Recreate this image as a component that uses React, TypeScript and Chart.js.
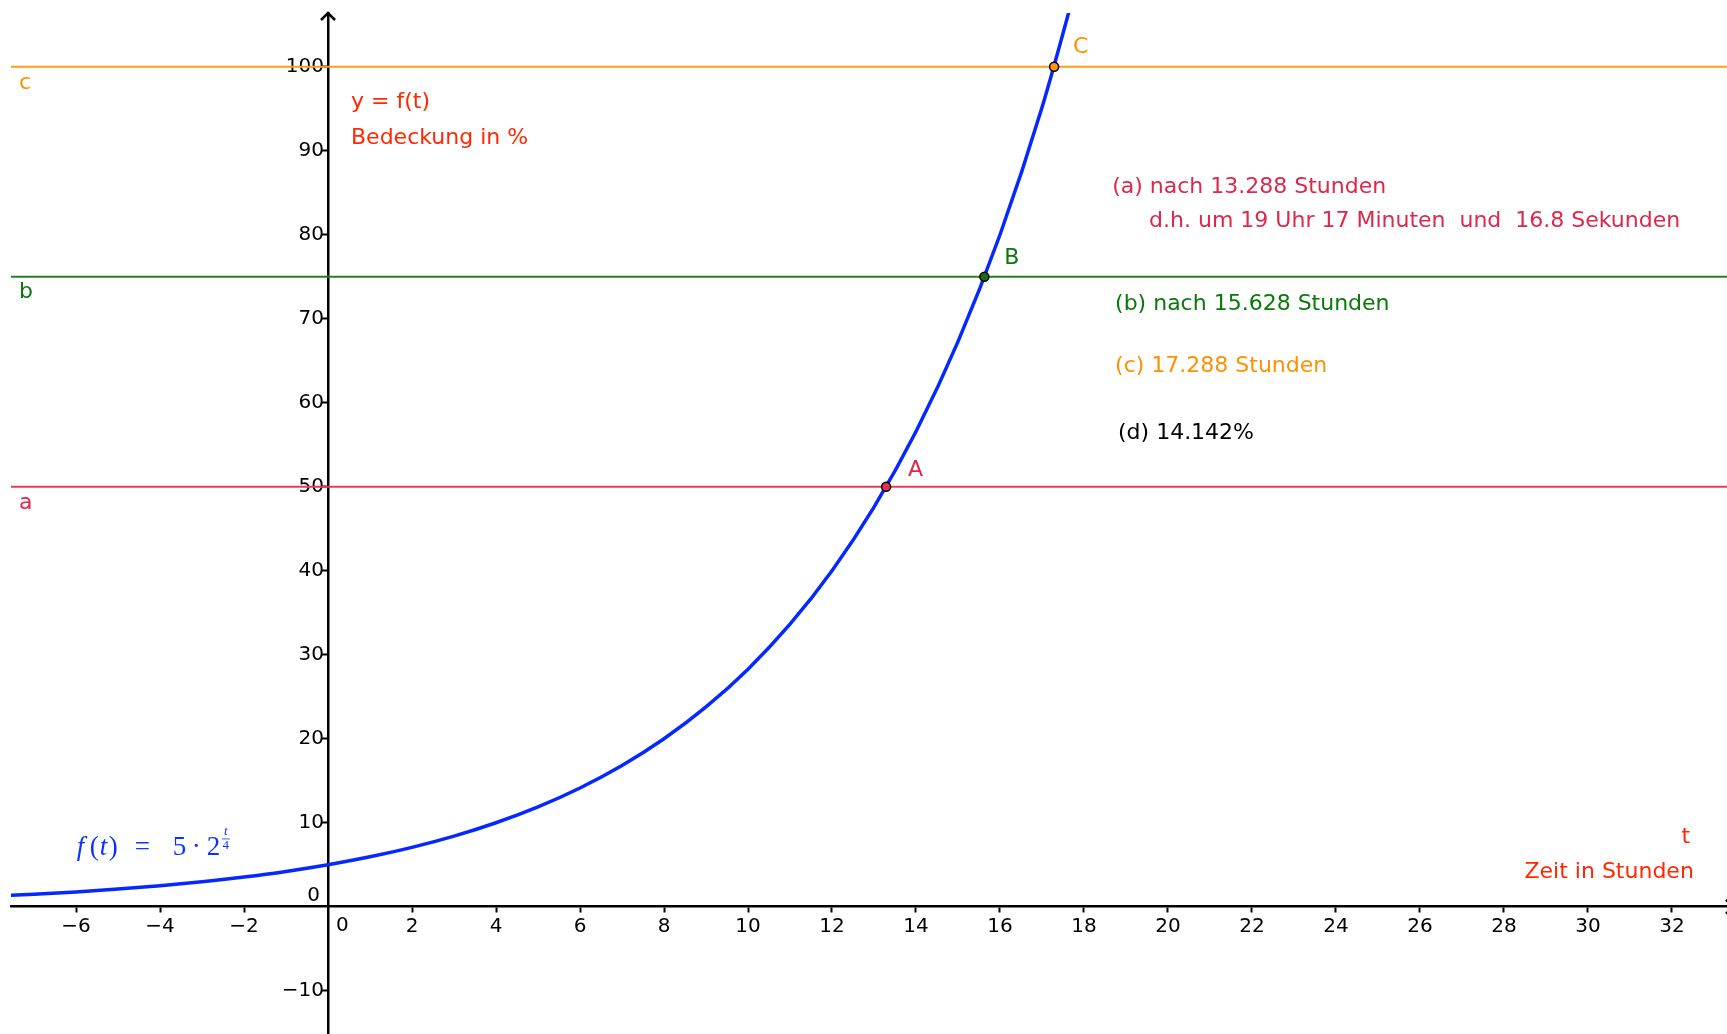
import React, { useEffect, useRef } from 'react';
import { Chart, registerables } from 'chart.js';

Chart.register(...registerables);

// ---- data ----
const curveT = [-8, -7, -6, -5, -4, -3, -2, -1, 0, 1, 2, 3, 4, 5, 6, 7, 8, 9, 10, 11, 12, 13, 14, 15, 16, 17, 18];
const curveF = [1.25, 1.487, 1.768, 2.102, 2.5, 2.973, 3.536, 4.204, 5, 5.946, 7.071, 8.409, 10, 11.892, 14.142, 16.818, 20, 23.784, 28.284, 33.636, 40, 47.568, 56.569, 67.272, 80, 95.137, 113.137];

const levelNames = ['a', 'b', 'c'];
const levelValues = [50, 75, 100];

const pointNames = ['A', 'B', 'C'];
const pointT = [13.288, 15.628, 17.288];
const pointF = [50, 75, 100];

const answerTexts = [
  '(a) nach 13.288 Stunden',
  'd.h. um 19 Uhr 17 Minuten  und  16.8 Sekunden',
  '(b) nach 15.628 Stunden',
  '(c) 17.288 Stunden',
  '(d) 14.142%',
];
const yAxisTitle = ['y = f(t)', 'Bedeckung in %'];
const xAxisTitle = ['t', 'Zeit in Stunden'];

// ---- view / styles ----
const X_MIN = -7.548;
const X_MAX = 33.31;
const Y_MIN = -15.15;
const Y_MAX = 106.4;

const FONT = '"DejaVu Sans", sans-serif';
const TICK_SIZE = 20;
const TEXT_SIZE = 22;

const levelColors = ['rgb(230,60,90)', 'rgb(34,128,34)', 'rgb(255,155,20)'];
const levelTextColors = ['rgb(222,40,75)', 'rgb(10,120,10)', 'rgb(255,145,0)'];
const pointFill = ['rgb(230,50,80)', 'rgb(20,110,20)', 'rgb(255,150,20)'];
const answerColors = [levelTextColors[0], levelTextColors[0], levelTextColors[1], levelTextColors[2], '#000'];
// anchor positions (data coordinates) for annotation texts
const answerPos = [[18.67, 85.68], [19.55, 81.63], [18.74, 71.75], [18.74, 64.37], [18.81, 56.39]];
const levelLabelPos = [[-7.36, 48.06], [-7.36, 73.18], [-7.36, 98.06]];
const pointLabelPos = [[13.81, 51.99], [16.1, 77.23], [17.74, 102.35]];
const RED = 'rgb(255,40,0)';
const BLUE = 'rgb(10,50,255)';

const fmt = (v: number) => (v < 0 ? '\u2212' + String(-v) : String(v));

const noPad = (s: any) => {
  s.paddingLeft = 0;
  s.paddingRight = 0;
  s.paddingTop = 0;
  s.paddingBottom = 0;
};

const overlay = {
  id: 'overlay',
  afterDraw(chart: any) {
    const { ctx, chartArea } = chart;
    const xs = chart.scales.x;
    const ys = chart.scales.y;
    const px = (v: number) => xs.getPixelForValue(v);
    const py = (v: number) => ys.getPixelForValue(v);
    const x0 = px(0);
    const y0 = py(0);
    ctx.save();
    // arrows
    ctx.strokeStyle = '#000';
    ctx.lineWidth = 2.5;
    ctx.lineJoin = 'miter';
    ctx.beginPath();
    ctx.moveTo(x0 - 7, chartArea.top + 7);
    ctx.lineTo(x0, chartArea.top);
    ctx.lineTo(x0 + 7, chartArea.top + 7);
    ctx.stroke();
    const xr = chartArea.right + 6;
    ctx.beginPath();
    ctx.moveTo(xr - 7, y0 - 7);
    ctx.lineTo(xr, y0);
    ctx.lineTo(xr - 7, y0 + 7);
    ctx.stroke();

    // zero labels
    ctx.fillStyle = '#000';
    ctx.font = `${TICK_SIZE}px ${FONT}`;
    ctx.textBaseline = 'middle';
    ctx.textAlign = 'right';
    ctx.fillText('0', x0 - 8, y0 - 11);
    ctx.textAlign = 'left';
    ctx.fillText('0', x0 + 8, y0 + 19);

    // texts
    ctx.font = `${TEXT_SIZE}px ${FONT}`;
    ctx.textAlign = 'left';
    levelNames.forEach((n, i) => {
      ctx.fillStyle = levelTextColors[i];
      ctx.fillText(n, px(levelLabelPos[i][0]), py(levelLabelPos[i][1]));
    });
    pointNames.forEach((n, i) => {
      ctx.fillStyle = levelTextColors[i];
      ctx.fillText(n, px(pointLabelPos[i][0]), py(pointLabelPos[i][1]));
    });
    answerTexts.forEach((t, i) => {
      ctx.fillStyle = answerColors[i];
      ctx.fillText(t, px(answerPos[i][0]), py(answerPos[i][1]));
    });
    ctx.fillStyle = RED;
    ctx.fillText(yAxisTitle[0], px(0.548), py(95.8));
    ctx.fillText(yAxisTitle[1], px(0.548), py(91.5));
    ctx.textAlign = 'right';
    ctx.fillText(xAxisTitle[0], px(32.43), py(8.32));
    ctx.fillText(xAxisTitle[1], px(32.52), py(4.14));

    // formula f(t) = 5 · 2^(t/4)
    const fx = px(-5.98);
    const fy = py(7.0);
    ctx.fillStyle = BLUE;
    ctx.textAlign = 'left';
    ctx.font = `italic 27px "Liberation Serif", serif`;
    ctx.fillText('f', fx, fy);
    ctx.font = `27px "Liberation Serif", serif`;
    ctx.fillText('(', fx + 13, fy);
    ctx.font = `italic 27px "Liberation Serif", serif`;
    ctx.fillText('t', fx + 23, fy);
    ctx.font = `27px "Liberation Serif", serif`;
    ctx.fillText(')', fx + 32, fy);
    ctx.fillText('=', fx + 58, fy);
    ctx.fillText('5', fx + 96, fy);
    ctx.fillText('\u00b7', fx + 115, fy);
    ctx.fillText('2', fx + 130, fy);
    ctx.font = `italic 13px "Liberation Serif", serif`;
    ctx.textAlign = 'center';
    ctx.fillText('t', fx + 149, fy - 16);
    ctx.font = `13px "Liberation Serif", serif`;
    ctx.fillText('4', fx + 149, fy - 2);
    ctx.lineWidth = 0.8;
    ctx.strokeStyle = BLUE;
    ctx.beginPath();
    ctx.moveTo(fx + 145, fy - 9);
    ctx.lineTo(fx + 153, fy - 9);
    ctx.stroke();
    ctx.restore();
  },
};

export default function App() {
  const ref = useRef<HTMLCanvasElement | null>(null);
  useEffect(() => {
    if (!ref.current) return;
    const pointsDs = {
      label: 'points',
      data: pointT.map((t, i) => ({ x: t, y: pointF[i] })),
      showLine: false,
      pointRadius: 4.5,
      pointBorderWidth: 1.5,
      pointBorderColor: '#000',
      pointBackgroundColor: pointFill,
      order: 0,
    };
    const curveDs = {
      label: 'f',
      data: curveT.map((t, i) => ({ x: t, y: curveF[i] })),
      showLine: true,
      borderColor: 'rgb(5,40,255)',
      borderWidth: 3.5,
      pointRadius: 0,
      cubicInterpolationMode: 'monotone',
      order: 1,
    };
    const levelDs = levelValues.map((v, i) => ({
      label: levelNames[i],
      data: [{ x: X_MIN, y: v }, { x: X_MAX, y: v }],
      showLine: true,
      borderColor: levelColors[i],
      borderWidth: 2,
      pointRadius: 0,
      order: 2,
    }));
    const chart = new Chart(ref.current, {
      type: 'scatter',
      data: { datasets: [pointsDs, curveDs, ...levelDs] as any },
      options: {
        responsive: false,
        animation: false,
        events: [],
        layout: { autoPadding: false, padding: { left: 11, top: 13, right: 0, bottom: 0 } },
        plugins: { legend: { display: false }, tooltip: { enabled: false } },
        scales: {
          x: {
            type: 'linear',
            min: X_MIN,
            max: X_MAX,
            position: { y: 0 } as any,
            grid: { display: true, drawOnChartArea: false, drawTicks: true, tickLength: 5, tickWidth: 2, tickColor: '#000' },
            border: { display: true, color: '#000', width: 2.5 },
            afterFit: noPad,
            afterBuildTicks: (s: any) => {
              s.ticks = s.ticks.filter((t: any) => t.value !== 0 && Math.abs(t.value % 2) < 1e-9);
            },
            ticks: {
              stepSize: 2,
              includeBounds: false,
              autoSkip: false,
              maxRotation: 0,
              color: '#000',
              padding: 3,
              font: { family: FONT, size: TICK_SIZE },
              callback: (v: any) => fmt(Number(v)),
            },
          },
          y: {
            type: 'linear',
            min: Y_MIN,
            max: Y_MAX,
            position: { x: 0 } as any,
            grid: { display: true, drawOnChartArea: false, drawTicks: true, tickLength: 5, tickWidth: 2, tickColor: '#000' },
            border: { display: true, color: '#000', width: 2.5 },
            afterFit: noPad,
            afterBuildTicks: (s: any) => {
              s.ticks = s.ticks.filter((t: any) => t.value !== 0 && Math.abs(t.value % 10) < 1e-9);
            },
            ticks: {
              stepSize: 10,
              includeBounds: false,
              autoSkip: false,
              color: '#000',
              padding: 3,
              font: { family: FONT, size: TICK_SIZE },
              callback: (v: any) => fmt(Number(v)) + '\u2009',
            },
          },
        },
      },
      plugins: [overlay],
    });
    return () => chart.destroy();
  }, []);
  return (
    <div style={{ position: 'fixed', left: 0, top: 0, width: 1727, height: 1034, background: '#fff' }}>
      <canvas ref={ref} width={1727} height={1034} style={{ display: 'block' }} />
    </div>
  );
}
